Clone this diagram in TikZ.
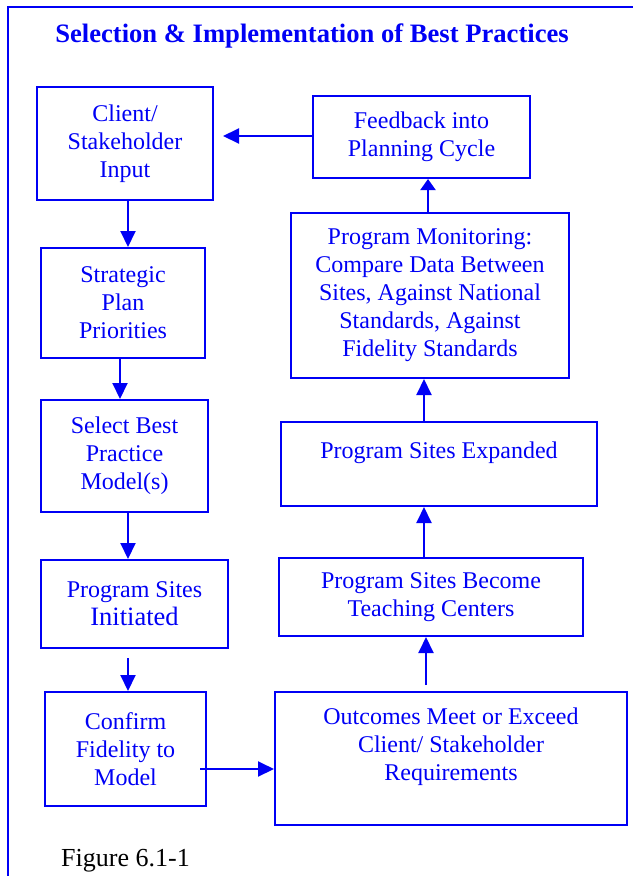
\documentclass[tikz,border=0pt]{standalone}
\usepackage{fontspec}
\setmainfont{Liberation Serif}
\usetikzlibrary{arrows.meta}
\definecolor{diagblue}{RGB}{0,0,245}
\tikzset{
  box/.style={draw=diagblue, line width=2pt, text=diagblue, align=center,
    inner sep=0pt, font=\fontsize{24}{28}\selectfont},
  flow/.style={draw=diagblue, line width=2pt, -{Triangle[length=16pt,width=15pt]}},
}
\begin{document}
\begin{tikzpicture}[x=1pt,y=-1pt]
            \useasboundingbox (0,0) rectangle (633,876);
            \draw [diagblue, line width=2pt] (8,876) -- (8,7) -- (633,7);

            \node [text=diagblue, font=\fontsize{26.6}{30}\selectfont\bfseries] (title) at (312,36) {Selection \& Implementation of Best Practices};

            \node [box, minimum width=176pt, minimum height=113pt] (client) at (125,143.5) {Client/\\Stakeholder\\Input};
            \node [box, minimum width=164pt, minimum height=110pt] (strat) at (123,303) {Strategic\\Plan\\Priorities};
            \node [box, minimum width=167pt, minimum height=112pt] (select) at (124.5,456) {Select Best\\Practice\\Model(s)};
            \node [box, minimum width=187pt, minimum height=88pt] (init) at (134.5,604) {Program Sites\\{\fontsize{26.5}{30}\selectfont Initiated}};
            \node [box, minimum width=161pt, minimum height=114pt] (confirm) at (125.5,749) {Confirm\\Fidelity to\\Model};

            \node [box, minimum width=352pt, minimum height=133pt] (outcome) at (451,758.5) {Outcomes Meet or Exceed\\Client/ Stakeholder\\Requirements\\ \mbox{}};
            \node [box, minimum width=304pt, minimum height=78pt] (teach) at (431,597) {Program Sites Become\\Teaching Centers};
            \node [box, minimum width=316pt, minimum height=84pt] (expand) at (439,464) {Program Sites Expanded\\ \mbox{}};
            \node [box, minimum width=278pt, minimum height=165pt] (monitor) at (430,295.5) {Program Monitoring:\\Compare Data Between\\Sites, Against National\\Standards, Against\\Fidelity Standards};
            \node [box, minimum width=217pt, minimum height=82pt] (feedback) at (421.5,137) {Feedback into\\Planning Cycle};

            \node [font=\fontsize{26}{30}\selectfont] (caption) at (125.5,861) {Figure 6.1-1};

            \draw [flow] ([xshift=3pt]client.south) -- ([xshift=3pt]client.south |- strat.north);
            \draw [flow] ([xshift=-3pt]strat.south) -- ([xshift=-3pt]strat.south |- select.north);
            \draw [flow] ([xshift=3.5pt]select.south) -- ([xshift=3.5pt]select.south |- init.north);
            \draw [flow] ([xshift=-6.5pt,yshift=-9pt]init.south) -- ([xshift=-6.5pt]init.south |- confirm.north);
            \draw [flow] ([xshift=-7pt,yshift=-20pt]confirm.east) -- ([yshift=-20pt]confirm.east -| outcome.west);
            \draw [flow] ([xshift=-25pt,yshift=6pt]outcome.north) -- ([xshift=-25pt]outcome.north |- teach.south);
            \draw [flow] ([xshift=-7pt]teach.north) -- ([xshift=-7pt]teach.north |- expand.south);
            \draw [flow] ([xshift=-15pt]expand.north) -- ([xshift=-15pt]expand.north |- monitor.south);
            \draw [flow, -{Triangle[length=11pt,width=15pt]}] ([xshift=-2pt]monitor.north) -- ([xshift=-2pt]monitor.north |- feedback.south);
            \draw [flow] ([yshift=1pt]feedback.west) -- ([xshift=9pt,yshift=1pt]feedback.west -| client.east);
        \end{tikzpicture}
\end{document}
